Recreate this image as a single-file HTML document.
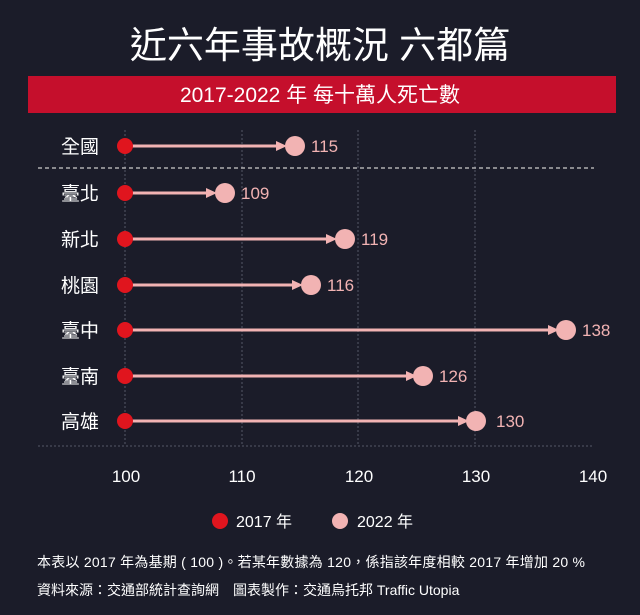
<!DOCTYPE html>
<html><head><meta charset="utf-8"><style>
body{margin:0;background:#1b1c29;}
svg{display:block}
text{font-family:"Liberation Sans","Noto Sans CJK TC",sans-serif;}
</style></head><body>
<svg width="640" height="615" viewBox="0 0 640 615">
<rect width="640" height="615" fill="#1b1c29"/>
<text x="320" y="58" fill="#fff" font-size="37" text-anchor="middle" font-family="Noto Sans CJK TC,sans-serif">近六年事故概況 六都篇</text>
<rect x="28" y="76" width="588" height="37" fill="#c50f2c"/>
<text x="320" y="102" fill="#fff" font-size="21" text-anchor="middle">2017-2022 年 每十萬人死亡數</text>
<g stroke="#555866" stroke-dasharray="2,2" stroke-width="1">
<line x1="125" y1="130" x2="125" y2="446"/><line x1="242" y1="130" x2="242" y2="446"/>
<line x1="358" y1="130" x2="358" y2="446"/><line x1="475" y1="130" x2="475" y2="446"/>
</g>
<line x1="38" y1="168" x2="594" y2="168" stroke="#ccc" stroke-dasharray="4,3" stroke-width="1.2"/>
<line x1="38" y1="446" x2="594" y2="446" stroke="#555866" stroke-dasharray="2,2"/>
<g font-size="19" fill="#fff" font-family="Noto Sans CJK TC,sans-serif" text-anchor="middle">
<text x="80" y="153">全國</text><text x="80" y="200">臺北</text><text x="80" y="246">新北</text>
<text x="80" y="292">桃園</text><text x="80" y="337">臺中</text><text x="80" y="383">臺南</text><text x="80" y="428">高雄</text>
</g>
<g stroke="#f2b3b3" stroke-width="3">
<line x1="125" y1="146" x2="280" y2="146"/><line x1="125" y1="193" x2="210" y2="193"/>
<line x1="125" y1="239" x2="330" y2="239"/><line x1="125" y1="285" x2="296" y2="285"/>
<line x1="125" y1="330" x2="552" y2="330"/><line x1="125" y1="376" x2="410" y2="376"/>
<line x1="125" y1="421" x2="462" y2="421"/>
</g>
<g fill="#f2b3b3">
<path d="M276 141 L287 146 L276 151Z"/><path d="M206 188 L217 193 L206 198Z"/>
<path d="M326 234 L337 239 L326 244Z"/><path d="M292 280 L303 285 L292 290Z"/>
<path d="M548 325 L559 330 L548 335Z"/><path d="M406 371 L417 376 L406 381Z"/>
<path d="M458 416 L469 421 L458 426Z"/>
<circle cx="295" cy="146" r="10"/><circle cx="225" cy="193" r="10"/><circle cx="345" cy="239" r="10"/>
<circle cx="311" cy="285" r="10"/><circle cx="566" cy="330" r="10"/><circle cx="423" cy="376" r="10"/><circle cx="476" cy="421" r="10"/>
</g>
<g fill="#e0151e">
<circle cx="125" cy="146" r="8"/><circle cx="125" cy="193" r="8"/><circle cx="125" cy="239" r="8"/>
<circle cx="125" cy="285" r="8"/><circle cx="125" cy="330" r="8"/><circle cx="125" cy="376" r="8"/><circle cx="125" cy="421" r="8"/>
</g>
<g font-size="17" fill="#f2b3b3">
<text x="311" y="152">115</text><text x="241" y="199">109</text><text x="361" y="245">119</text>
<text x="327" y="291">116</text><text x="582" y="336">138</text><text x="439" y="382">126</text><text x="496" y="427">130</text>
</g>
<g font-size="17" fill="#fff" text-anchor="middle">
<text x="126" y="482">100</text><text x="242" y="482">110</text><text x="359" y="482">120</text>
<text x="476" y="482">130</text><text x="593" y="482">140</text>
</g>
<circle cx="220" cy="521" r="8" fill="#e0151e"/>
<text x="236" y="527" font-size="16" fill="#fff">2017 年</text>
<circle cx="340" cy="521" r="8" fill="#f2b3b3"/>
<text x="357" y="527" font-size="16" fill="#fff">2022 年</text>
<text x="37" y="567" font-size="14" fill="#fff" textLength="548">本表以 2017 年為基期 ( 100 )。若某年數據為 120，係指該年度相較 2017 年增加 20 %</text>
<text x="37" y="595" font-size="14" fill="#fff">資料來源：交通部統計查詢網　圖表製作：交通烏托邦 Traffic Utopia</text>
</svg>
</body></html>
